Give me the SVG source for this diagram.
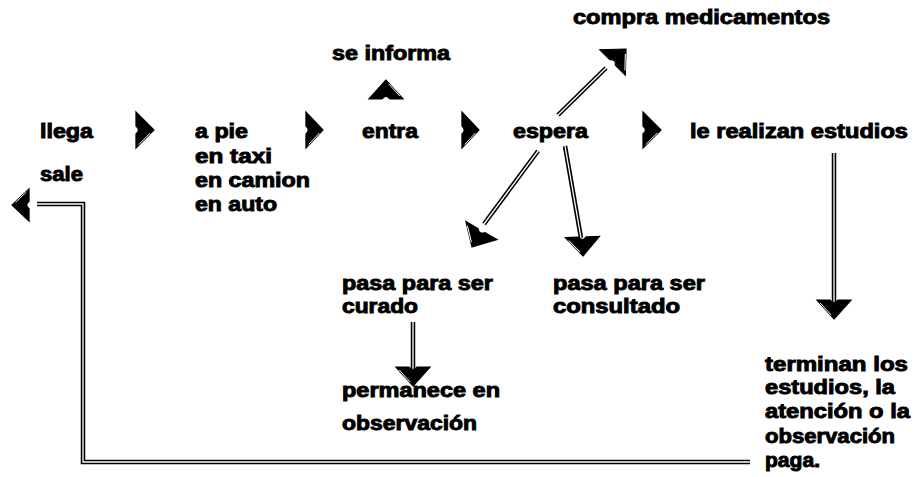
<svg xmlns="http://www.w3.org/2000/svg" width="920" height="477" viewBox="0 0 920 477">
<style>
text{font-family:"Liberation Sans",Arial,sans-serif;font-weight:bold;font-size:19.5px;fill:#000;stroke:#000;stroke-width:0.9px}
.lo{fill:none;stroke:#000;stroke-width:4.5;stroke-linejoin:miter}
.li{fill:none;stroke:#fff;stroke-width:1.3;stroke-linejoin:miter}
</style>
<defs>
<g id="head">
<path d="M0,0 L-19,-18 L-19,-4 Q-14,0 -19,4 L-19,18 Z" fill="#000" stroke="#000" stroke-width="1.2" stroke-linejoin="miter"/>
<path d="M-16,14.5 L-4,3" stroke="#fff" stroke-width="1"/>
</g>
</defs>
<g id="connectors">
<g id="e-llega-apie"><use href="#head" transform="translate(154,130) scale(0.95,1)"/></g>
<g id="e-apie-entra"><use href="#head" transform="translate(323,130) scale(0.9,1)"/></g>
<g id="e-entra-espera"><use href="#head" transform="translate(479,130) scale(0.9,1)"/></g>
<g id="e-espera-estudios"><use href="#head" transform="translate(661,130) scale(0.95,1)"/></g>
<g id="e-entra-informa"><use href="#head" transform="translate(386,80) rotate(-90) scale(1,0.95)"/></g>
<g id="e-espera-compra">
<path class="lo" d="M558,115 L606,68"/><path class="li" d="M558,115 L606,68"/>
<use href="#head" transform="translate(626,49) rotate(-45)"/>
</g>
<g id="e-espera-curado">
<path class="lo" d="M538,151 L484,224"/><path class="li" d="M538,151 L484,224"/>
<use href="#head" transform="translate(472,247) rotate(120)"/>
</g>
<g id="e-espera-consultado">
<path class="lo" d="M565,146 L581,238"/><path class="li" d="M565,146 L581,238"/>
<use href="#head" transform="translate(583,256) rotate(88) scale(1,0.95)"/>
</g>
<g id="e-estudios-terminan">
<path class="lo" d="M834,153 L834,302"/><path class="li" d="M834,153 L834,302"/>
<use href="#head" transform="translate(834,319) rotate(90) scale(1,0.95)"/>
</g>
<g id="e-curado-permanece">
<path class="lo" d="M413,322 L413,370"/><path class="li" d="M413,322 L413,370"/>
<use href="#head" transform="translate(413,386) rotate(90) scale(1,0.95)"/>
</g>
<g id="e-paga-sale">
<path class="lo" d="M750,462 L83,462 L83,204 L37,204"/><path class="li" d="M750,462 L83,462 L83,204 L37,204"/>
<use href="#head" transform="translate(12,205) rotate(180) scale(0.9,0.9)"/>
</g>
</g>
<g id="n-llega"><text x="40" y="138" textLength="53" lengthAdjust="spacingAndGlyphs">llega</text></g>
<g id="n-sale"><text x="40" y="181" textLength="43" lengthAdjust="spacingAndGlyphs">sale</text></g>
<g id="n-modo">
<text x="195" y="138" textLength="53" lengthAdjust="spacingAndGlyphs">a pie</text>
<text x="195" y="163" textLength="77" lengthAdjust="spacingAndGlyphs">en taxi</text>
<text x="195" y="187" textLength="115" lengthAdjust="spacingAndGlyphs">en camion</text>
<text x="195" y="211" textLength="82" lengthAdjust="spacingAndGlyphs">en auto</text>
</g>
<g id="n-entra"><text x="362" y="138" textLength="56" lengthAdjust="spacingAndGlyphs">entra</text></g>
<g id="n-espera"><text x="513" y="138" textLength="75" lengthAdjust="spacingAndGlyphs">espera</text></g>
<g id="n-estudios"><text x="690" y="138" textLength="218" lengthAdjust="spacingAndGlyphs">le realizan estudios</text></g>
<g id="n-informa"><text x="332" y="60" textLength="118" lengthAdjust="spacingAndGlyphs">se informa</text></g>
<g id="n-compra"><text x="573" y="24" textLength="257" lengthAdjust="spacingAndGlyphs">compra medicamentos</text></g>
<g id="n-curado">
<text x="342" y="290" textLength="151" lengthAdjust="spacingAndGlyphs">pasa para ser</text>
<text x="342" y="313" textLength="76" lengthAdjust="spacingAndGlyphs">curado</text>
</g>
<g id="n-consultado">
<text x="553" y="290" textLength="152" lengthAdjust="spacingAndGlyphs">pasa para ser</text>
<text x="553" y="313" textLength="127" lengthAdjust="spacingAndGlyphs">consultado</text>
</g>
<g id="n-permanece">
<text x="342" y="397" textLength="158" lengthAdjust="spacingAndGlyphs">permanece en</text>
<text x="342" y="430" textLength="135" lengthAdjust="spacingAndGlyphs">observación</text>
</g>
<g id="n-terminan">
<text x="765" y="371" textLength="143" lengthAdjust="spacingAndGlyphs">terminan los</text>
<text x="765" y="394" textLength="130" lengthAdjust="spacingAndGlyphs">estudios, la</text>
<text x="765" y="418" textLength="145" lengthAdjust="spacingAndGlyphs">atención o la</text>
<text x="765" y="443" textLength="130" lengthAdjust="spacingAndGlyphs">observación</text>
<text x="765" y="467" textLength="55" lengthAdjust="spacingAndGlyphs">paga.</text>
</g>
</svg>
